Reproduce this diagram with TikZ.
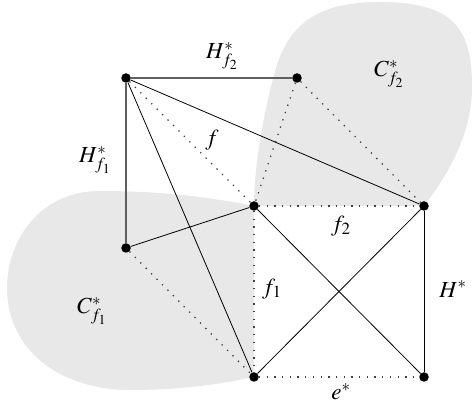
\documentclass[tikz,border=0pt]{standalone}
\usepackage{mathptmx}
\usepackage{tikz}
\usetikzlibrary{calc,positioning}
\definecolor{regionfill}{RGB}{232,232,232}
\definecolor{edgegray}{RGB}{95,95,95}

\begin{document}
\begin{tikzpicture}[x=1pt, y=-1pt,
    vertex/.style={circle, fill=black, inner sep=0pt, minimum size=9.5pt},
    plainedge/.style={black, line width=0.8pt},
    grayedge/.style={edgegray, line width=1.1pt},
    dotedge/.style={black!75, line width=1.3pt, dash pattern=on 1.3pt off 6.4pt},
    lbl/.style={inner sep=0pt, font=\fontsize{23}{27}\selectfont}]
  \useasboundingbox (0,0) rectangle (472,406);
  % shaded regions
  \fill[regionfill] (254,206) -- (424,206) .. controls (450,172) and (474,130) .. (472,80)
    .. controls (470,30) and (455,2) .. (380,2) .. controls (320,2) and (290,22) .. (276,68)
    .. controls (264,110) and (254,165) .. (254,206) -- cycle;
  \fill[regionfill] (254,206) .. controls (200,195) and (150,191) .. (100,191)
    .. controls (40,191) and (7,240) .. (7,288) .. controls (7,350) and (60,390) .. (130,390)
    .. controls (190,390) and (230,382) .. (254,377) -- cycle;
  % vertices
  \foreach \n/\px/\py in {a/126/78, b/297/78, c/254/206, d/424/206, e/126/248, f/254/377, g/424/377}
    \node[vertex] (\n) at (\px,\py) {};
  % edges
  \draw[grayedge] (a) -- (b);
  \draw[grayedge] (a) -- (e);
  \foreach \s/\t in {a/d, a/f, e/c, c/g, f/d, d/g}
    \draw[plainedge] (\s) -- (\t);
  \foreach \s/\t in {a/c, e/f, c/f, c/d, f/g, b/c, b/d}
    \draw[dotedge] (\s) -- (\t);
  % labels
  \node[lbl] (hf2) at (222,56) {$H^*_{f_2}$};
  \node[lbl] (hf1) at (95,160) {$H^*_{f_1}$};
  \node[lbl] (cf2) at (389,74) {$C^*_{f_2}$};
  \node[lbl] (cf1) at (92,311) {$C^*_{f_1}$};
  \node[lbl] (lf) at (212,140) {$f$};
  \node[lbl] (lf2) at (341,226) {$f_2$};
  \node[lbl] (lf1) at (272,289) {$f_1$};
  \node[lbl] (hs) at (453,289) {$H^*$};
  \node[lbl] (es) at (341,392) {$e^*$};
\end{tikzpicture}
\end{document}
